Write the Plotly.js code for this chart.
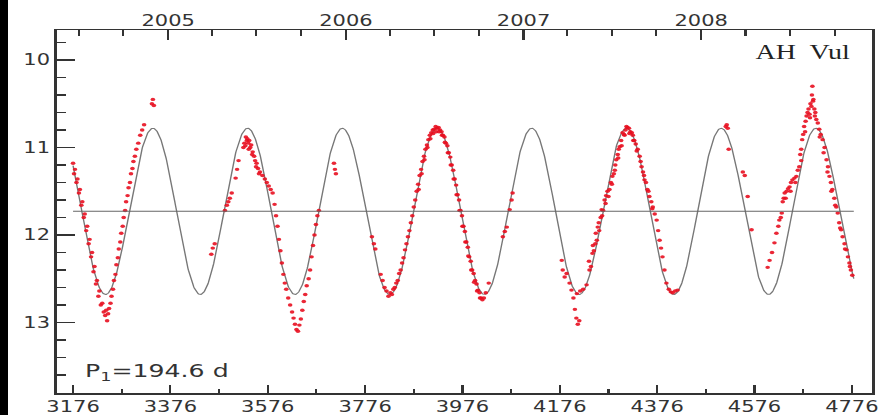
<!DOCTYPE html>
<html><head><meta charset="utf-8">
<script src="https://cdn.plot.ly/plotly-3.0.1.min.js"></script>
<style>
html,body{margin:0;padding:0;background:#000;width:881px;height:415px;overflow:hidden;}
#wrap{position:absolute;left:8px;top:0;width:624px;height:415px;transform:scaleX(1.4);transform-origin:0 0;background:#fff;}
#chart{width:624px;height:415px;}
</style></head>
<body><div id="wrap"><div id="chart"></div></div>
<script>
// ---- Observations (JD - 2450000, visual magnitude) ----
const seg1JD  = [3176,3178,3180,3183,3185,3188,3190,3193,3195,3198,3200,3203,3205,3208,3210,3213,3215,3218,3220,3223,3225,3228,3230,3233,3236,3239,3242,3244,3246,3248,3250,3253,3255,3258,3260,3263,3265,3268,3270,3273,3275,3278,3280,3283,3285,3288,3290,3293,3295,3298,3300,3303,3306,3310,3314,3318,3322,3338,3340,3342];
const seg1Mag = [11.18,11.30,11.25,11.40,11.36,11.52,11.48,11.66,11.62,11.80,11.76,11.95,11.90,12.10,12.05,12.25,12.20,12.42,12.36,12.56,12.52,12.70,12.64,12.80,12.78,12.88,12.92,12.86,12.98,12.90,12.84,12.78,12.70,12.62,12.52,12.45,12.34,12.26,12.16,12.08,11.98,11.90,11.80,11.72,11.62,11.55,11.46,11.40,11.30,11.24,11.16,11.10,11.02,10.95,10.86,10.80,10.74,10.50,10.45,10.52];

const seg2JD  = [3460,3463,3467,3488,3492,3495,3498,3502,3510,3513,3516];
const seg2Mag = [12.22,12.15,12.10,11.72,11.66,11.62,11.58,11.52,11.35,11.25,11.15];

const seg3JD  = [3526,3528,3531,3533,3534,3536,3538,3540,3542,3545,3548,3550,3553,3556,3560,3565,3570,3574,3578,3582,3586,3590,3593,3596,3599,3602,3605,3608,3611,3614,3618,3622,3626,3629,3632,3635,3638,3641,3644,3647,3650,3653,3656,3660,3663,3666,3669,3672,3675,3678,3681,3712,3714,3716,3790,3794,3797,3530,3537,3544,3552,3558];
const seg3Mag = [11.00,10.95,10.88,10.92,10.90,10.95,10.92,11.00,10.97,11.05,11.10,11.15,11.18,11.24,11.28,11.32,11.36,11.40,11.44,11.48,11.52,11.65,11.78,11.90,12.05,12.18,12.32,12.45,12.55,12.62,12.72,12.80,12.88,12.95,13.02,13.08,13.10,13.03,12.96,12.86,12.76,12.68,12.58,12.50,12.40,12.25,12.12,12.00,11.88,11.78,11.72,11.18,11.25,11.30,12.02,12.10,12.16,10.98,11.02,11.08,11.22,11.30];

const seg4JD  = [3808,3812,3816,3820,3824,3828,3831,3834,3837,3840,3843,3846,3849,3852,3855,3858,3861,3864,3867,3870,3873,3876,3879,3882,3885,3888,3891,3894,3897,3900,3903,3906,3909,3912,3915,3918,3921,3924,3927,3930,3933,3936,3939,3942,3945,3948,3951,3954,3957,3960,3963,3966,3969,3972,3975,3978,3981,3984,3987,3990,3993,3996,3999,4002,4005,4008,4011,4014,4017,4020,4024,4030];
const seg4Mag = [12.45,12.52,12.60,12.64,12.70,12.66,12.68,12.62,12.60,12.55,12.52,12.44,12.40,12.32,12.26,12.17,12.10,12.02,11.95,11.86,11.78,11.68,11.60,11.50,11.42,11.32,11.25,11.16,11.10,11.02,10.97,10.91,10.86,10.83,10.80,10.79,10.76,10.78,10.77,10.80,10.82,10.86,10.88,10.95,10.98,11.06,11.11,11.20,11.26,11.36,11.43,11.54,11.60,11.72,11.78,11.90,11.96,12.08,12.14,12.25,12.30,12.40,12.44,12.52,12.56,12.63,12.66,12.72,12.74,12.72,12.66,12.55];
const seg4bJD  = [3886,3892,3898,3904,3910,3916,3922,3928,3934,3940,3946,3952,3958,3964,3970,3976,3982,3988,3994,4000,4006,4012];
const seg4bMag = [11.48,11.30,11.14,11.00,10.90,10.84,10.82,10.82,10.86,10.94,11.06,11.20,11.36,11.54,11.72,11.90,12.08,12.24,12.40,12.54,12.64,12.72];

const seg5JD  = [4059,4063,4067,4073,4077,4079,4180,4182,4186,4190,4196,4200,4204,4207,4210,4213,4216];
const seg5Mag = [12.02,11.96,11.91,11.71,11.60,11.52,12.29,12.40,12.48,12.44,12.55,12.63,12.72,12.85,12.95,13.02,12.98];

const seg6JD  = [4211,4218,4224,4231,4237,4240,4243,4246,4249,4252,4254,4257,4260,4262,4265,4268,4271,4274,4278,4281,4284,4287,4290,4292,4295,4297,4299,4302,4305,4308,4311,4313,4315,4318,4321,4324,4326,4329,4332,4336,4340,4344,4347,4350,4353,4356,4360,4364,4367,4371,4375,4378,4381,4384,4387,4391,4395,4400,4404,4408,4413,4418];
const seg6Mag = [12.67,12.64,12.62,12.57,12.40,12.36,12.21,12.18,12.10,12.06,11.91,11.95,11.80,11.71,11.72,11.60,11.55,11.50,11.48,11.40,11.33,11.30,11.20,11.14,11.08,11.02,10.99,10.92,10.83,10.85,10.80,10.76,10.77,10.78,10.82,10.83,10.86,10.92,10.96,11.02,11.10,11.22,11.28,11.37,11.40,11.48,11.56,11.62,11.68,11.76,11.83,11.95,12.06,12.15,12.25,12.40,12.55,12.62,12.65,12.66,12.64,12.63];
const seg6bJD  = [4236,4244,4250,4256,4263,4270,4276,4283,4289,4296,4303,4309,4319,4327,4334,4342,4349,4358,4366];
const seg6bMag = [12.30,12.12,11.98,11.86,11.78,11.64,11.56,11.42,11.26,11.12,10.98,10.86,10.84,10.92,11.04,11.16,11.32,11.50,11.70];

const seg7JD  = [4517,4519,4521,4523,4552,4556,4562,4570];
const seg7Mag = [10.76,10.74,10.78,11.02,11.28,11.32,11.56,11.94];

const seg8JD  = [4603,4607,4612,4617,4621,4625,4627,4630,4632,4634,4636,4638,4642,4645,4648,4651,4654,4658,4662,4665,4668,4670,4672,4674,4676,4678,4681,4683,4685,4687,4689,4691,4693,4694,4695,4696,4697,4699,4701,4703,4706,4709,4712,4716,4720,4724,4727,4730,4733,4736,4740,4744,4747,4750,4754,4757,4761,4765,4768,4771,4774,4777];
const seg8Mag = [12.37,12.29,12.20,12.09,11.98,11.90,11.83,11.80,11.75,11.62,11.58,11.52,11.50,11.47,11.45,11.40,11.37,11.35,11.33,11.26,11.22,11.08,11.02,10.91,10.85,10.76,10.70,10.64,10.60,10.56,10.62,10.50,10.53,10.40,10.30,10.47,10.45,10.56,10.60,10.68,10.72,10.79,10.85,10.91,11.00,11.14,11.22,11.33,11.40,11.48,11.58,11.68,11.75,11.86,11.94,12.02,12.10,12.17,12.25,12.32,12.40,12.46];
const seg8bJD  = [4640,4650,4660,4672,4680,4690,4700,4710,4718,4726,4734,4742,4752,4762,4772];
const seg8bMag = [11.58,11.50,11.40,11.15,10.82,10.66,10.64,10.88,11.06,11.28,11.50,11.66,11.92,12.16,12.36];

// ---- Sinusoid model (P1 = 194.6 d) ----
const period = 194.6;
const epochMax = 3340;
const meanMag = 11.73;
const amplitude = 0.95;
const modelStart = 3176;
const modelEnd = 4780;

// ---- Axis ticks ----
const xTicks = [3176,3376,3576,3776,3976,4176,4376,4576,4776];
const xMinorTicks = [3276,3476,3676,3876,4076,4276,4476,4676];
const yTicks = [10,11,12,13];
const yearJD = [3371.5,3736.5,4101.5,4466.5];
const yearLabels = ['2005','2006','2007','2008'];
const quarterJD = [3187.5,3279.5,3461.5,3552.5,3644.5,3826.5,3917.5,4009.5,4191.5,4282.5,4374.5,4557.5,4648.5,4740.5];

const obsJD = [].concat(seg1JD,seg2JD,seg3JD,seg4JD,seg4bJD,seg5JD,seg6JD,seg6bJD,seg7JD,seg8JD,seg8bJD);
const obsMag = [].concat(seg1Mag,seg2Mag,seg3Mag,seg4Mag,seg4bMag,seg5Mag,seg6Mag,seg6bMag,seg7Mag,seg8Mag,seg8bMag);

const modelJD = [], modelMag = [];
for (let t = modelStart; t <= modelEnd; t += 1) {
  modelJD.push(t);
  modelMag.push(meanMag - amplitude * Math.cos(2 * Math.PI * (t - epochMax) / period));
}

const xRange = [3143, 4817];
const yRange = [13.806, 9.657];
const tickFont = {family: 'DejaVu Sans', size: 15, color: '#333'};

const traces = [
  {x: [modelStart, modelEnd], y: [meanMag, meanMag], xaxis: 'x2', mode: 'lines',
   line: {color: '#666', width: 1}, hoverinfo: 'skip'},
  {x: modelJD, y: modelMag, mode: 'lines', line: {color: '#777', width: 1}, hoverinfo: 'skip'},
  {x: obsJD, y: obsMag, mode: 'markers', type: 'scatter',
   marker: {color: 'rgb(232,16,32)', size: 3.3, opacity: 0.9}}
];

const layout = {
  width: 624, height: 415,
  margin: {l: 35, r: 7, t: 30, b: 22},
  paper_bgcolor: '#fff', plot_bgcolor: '#fff',
  showlegend: false,
  xaxis: {
    range: xRange, showgrid: false, zeroline: false,
    showline: true, linecolor: '#333', linewidth: 1.5, mirror: true,
    tickmode: 'array', tickvals: xTicks, ticktext: xTicks.map(String),
    ticks: 'inside', ticklen: 8, tickwidth: 1.5, tickcolor: '#333',
    minor: {tickmode: 'array', tickvals: xMinorTicks, ticks: 'inside', ticklen: 4, tickwidth: 1.5, tickcolor: '#333'},
    tickfont: tickFont
  },
  xaxis2: {
    overlaying: 'x', side: 'top', range: xRange, showgrid: false, zeroline: false,
    showline: false,
    tickmode: 'array', tickvals: yearJD, ticktext: yearLabels,
    ticks: 'inside', ticklen: 10, tickwidth: 1.5, tickcolor: '#333',
    minor: {tickmode: 'array', tickvals: quarterJD, ticks: 'inside', ticklen: 6, tickwidth: 1.5, tickcolor: '#333'},
    tickfont: tickFont
  },
  yaxis: {
    range: yRange, showgrid: false, zeroline: false,
    showline: true, linecolor: '#333', linewidth: 2, mirror: true,
    tickmode: 'array', tickvals: yTicks, ticktext: yTicks.map(String),
    ticks: 'inside', ticklen: 13, tickwidth: 1.5, tickcolor: '#333',
    minor: {dtick: 0.2, ticks: 'inside', ticklen: 6.5, tickwidth: 1.5, tickcolor: '#333'},
    tickfont: tickFont
  },
  annotations: [
    {text: 'AH  Vul', xref: 'paper', yref: 'paper', x: 0.977, y: 0.939,
     xanchor: 'right', yanchor: 'middle', showarrow: false,
     font: {family: 'Liberation Serif', size: 20, color: '#222'}},
    {text: 'P<sub>1</sub>=194.6 d', xref: 'paper', yref: 'paper', x: 0.031, y: 0.058,
     xanchor: 'left', yanchor: 'middle', showarrow: false,
     font: {family: 'DejaVu Sans', size: 18, color: '#333'}}
  ]
};

Plotly.newPlot('chart', traces, layout, {displayModeBar: false, staticPlot: true});
</script>
</body></html>
